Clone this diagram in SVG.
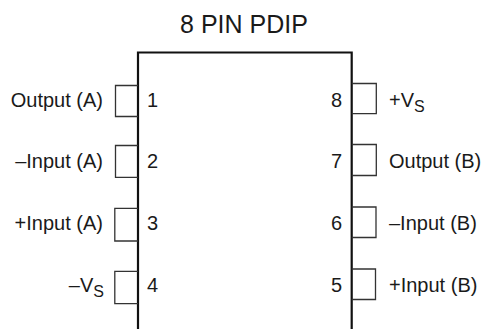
<svg xmlns="http://www.w3.org/2000/svg" width="485" height="329" viewBox="0 0 485 329">
<style>
text{font-family:"Liberation Sans",Arial,sans-serif;font-size:20px;fill:#1a1a1a}
.t{font-size:25px}
.s{font-size:16px}
.pin{fill:none;stroke:#333;stroke-width:1.3}
.body{fill:none;stroke:#111;stroke-width:2.2}
.e{text-anchor:end}
.m{text-anchor:middle}
</style>
<rect width="485" height="329" fill="#fff"/>
<g id="title"><text class="t m" x="244" y="33">8 PIN PDIP</text></g>
<g id="connectors">
<path class="body" d="M138 329V52.5H351.7V329"/>
</g>
<g id="pin1"><path class="pin" d="M138 85.5H115.5V116.5H138"/><text class="e" x="103" y="107">Output (A)</text><text x="147" y="107">1</text></g>
<g id="pin2"><path class="pin" d="M138 145.5H115.5V177.3H138"/><text class="e" x="103" y="168">–Input (A)</text><text x="147" y="168">2</text></g>
<g id="pin3"><path class="pin" d="M138 208.3H114.8V241H138"/><text class="e" x="103" y="230">+Input (A)</text><text x="147" y="230">3</text></g>
<g id="pin4"><path class="pin" d="M138 271.3H114.8V303.7H138"/><text class="e" x="104" y="291.5">–V<tspan class="s" dy="5">S</tspan></text><text x="147" y="291.5">4</text></g>
<g id="pin8"><path class="pin" d="M351.7 83.5H376.3V113.7H351.7"/><text class="e" x="342" y="107">8</text><text x="389" y="107">+V<tspan class="s" dy="5">S</tspan></text></g>
<g id="pin7"><path class="pin" d="M351.7 144.5H376.3V175.5H351.7"/><text class="e" x="342" y="168">7</text><text x="389" y="168">Output (B)</text></g>
<g id="pin6"><path class="pin" d="M351.7 207H376V237.5H351.7"/><text class="e" x="342" y="230">6</text><text x="389" y="230">–Input (B)</text></g>
<g id="pin5"><path class="pin" d="M351.7 269H375.5V299.5H351.7"/><text class="e" x="342" y="291.5">5</text><text x="389" y="291.5">+Input (B)</text></g>
</svg>
